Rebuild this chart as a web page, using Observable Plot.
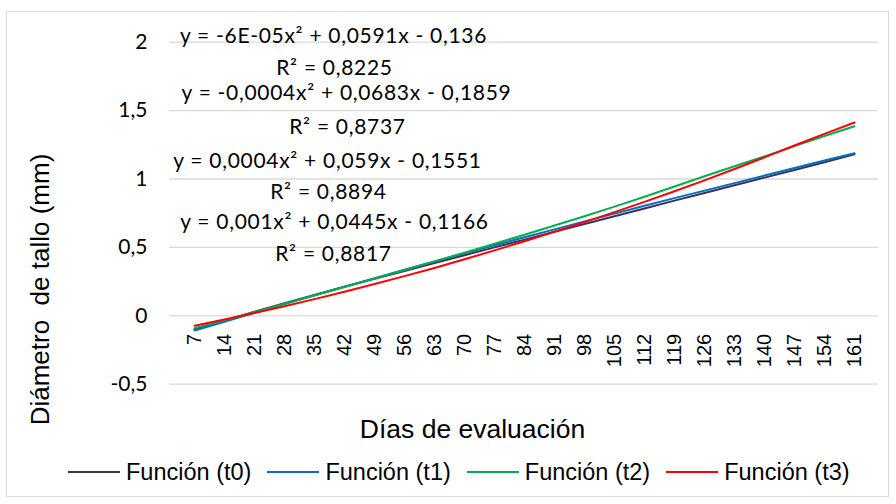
<!DOCTYPE html>
<html><head><meta charset="utf-8">
<script src="https://cdn.jsdelivr.net/npm/d3@7"></script>
<script src="https://cdn.jsdelivr.net/npm/@observablehq/plot@0.6"></script>
<style>
html,body{margin:0;padding:0;background:#fff;}
#wrap{position:relative;width:896px;height:504px;overflow:hidden;background:#fff;}
#frame{position:absolute;left:6px;top:11px;width:883px;height:486px;border:1px solid #d9d9d9;box-sizing:border-box;}
#chart{position:absolute;left:0;top:0;}
#chart svg text{white-space:pre;}
#chart svg .eq text{letter-spacing:0.7px;}
#legend{position:absolute;left:68px;top:456px;height:32px;display:flex;align-items:center;gap:16px;font-family:"Liberation Sans",Arial,sans-serif;font-size:23.5px;color:#000;}
.item{display:flex;align-items:center;}
.sw{width:52px;height:2px;margin-right:6px;}
</style></head><body>
<div id="wrap"><div id="frame"></div><div id="chart"></div><div id="legend"></div></div>
<script>
const days = [7,14,21,28,35,42,49,56,63,70,77,84,91,98,105,112,119,126,133,140,147,154,161];
const t0 = [-0.098,-0.035,0.030,0.092,0.152,0.212,0.270,0.328,0.386,0.443,0.500,0.557,0.614,0.671,0.728,0.785,0.842,0.898,0.954,1.010,1.066,1.122,1.180];
const t1 = [-0.108,-0.043,0.022,0.086,0.150,0.213,0.275,0.336,0.397,0.457,0.516,0.574,0.632,0.690,0.747,0.804,0.860,0.915,0.970,1.025,1.080,1.135,1.188];
const t2 = [-0.090,-0.032,0.027,0.087,0.148,0.210,0.272,0.335,0.398,0.462,0.527,0.593,0.660,0.728,0.798,0.870,0.945,1.020,1.093,1.165,1.240,1.314,1.386];
const t3 = [-0.072,-0.027,0.020,0.070,0.122,0.176,0.232,0.290,0.350,0.413,0.478,0.545,0.614,0.685,0.758,0.833,0.910,0.990,1.073,1.158,1.245,1.330,1.413];
const seriesNames = ["Función (t0)","Función (t1)","Función (t2)","Función (t3)"];
const seriesColors = ["#403152","#0070C0","#00B050","#FF0000"];
const yTicks = [-0.5,0,0.5,1,1.5,2];
const yTickLabels = ["-0,5","0","0,5","1","1,5","2"];
const eqLines = [
  "y = -6E-05x² + 0,0591x - 0,136","R² = 0,8225",
  "y = -0,0004x² + 0,0683x - 0,1859","R² = 0,8737",
  "y = 0,0004x² + 0,059x - 0,1551","R² = 0,8894",
  "y = 0,001x² + 0,0445x - 0,1166","R² = 0,8817"
];
const xTitle = "Días de evaluación";
const yTitle = "Diámetro  de tallo (mm)";

const series = [t0,t1,t2,t3];
const rows = [];
series.forEach((s,k)=>s.forEach((v,i)=>rows.push({day:days[i], value:v, serie:seriesNames[k]})));

const W=896,H=504,mL=169,mR=18,mT=41.7,mB=504-383.7;
const eqPos = [[333,42],[334,74],[346,99],[347,133],[327,167],[328,198],[334,228],[333,260]];
const eqMarks = eqLines.map((s,i)=>Plot.text([s],{frameAnchor:"top-left",dx:eqPos[i][0]-mL,dy:eqPos[i][1]-mT,
  textAnchor:"middle",lineAnchor:"bottom",fontSize:21,fontFamily:"Lato",fill:"#000",className:"eq"}));

const chart = Plot.plot({
  width:W,height:H,marginLeft:mL,marginRight:mR,marginTop:mT,marginBottom:mB,
  style:{background:"transparent",overflow:"visible"},
  x:{type:"point",domain:days,padding:0.5,axis:null},
  y:{domain:[-0.5,2],axis:null},
  color:{domain:seriesNames,range:seriesColors},
  marks:[
    Plot.ruleY(yTicks,{stroke:"#d9d9d9",strokeWidth:1.3}),
    Plot.text(yTicks,{y:d=>d,text:(d,i)=>yTickLabels[i],frameAnchor:"left",textAnchor:"end",dx:-22,fontSize:21,fontFamily:"Lato",fill:"#000"}),
    Plot.text(days,{x:d=>d,y:()=>0,text:d=>String(d),rotate:-90,textAnchor:"end",dy:18,fontSize:20,fontFamily:"Liberation Sans",fill:"#000"}),
    Plot.line(rows,{x:"day",y:"value",z:"serie",stroke:"serie",strokeWidth:2}),
    ...eqMarks,
    Plot.text([xTitle],{frameAnchor:"top-left",dx:472-mL,dy:437-mT,textAnchor:"middle",lineAnchor:"bottom",fontSize:26.5,fontFamily:"Liberation Sans",fill:"#000"}),
    Plot.text([yTitle],{frameAnchor:"top-left",dx:40-mL,dy:289-mT,rotate:-90,textAnchor:"middle",lineAnchor:"middle",fontSize:26,fontFamily:"Liberation Sans",fill:"#000"})
  ]
});
document.getElementById("chart").appendChild(chart);

const lg = document.getElementById("legend");
seriesNames.forEach((n,i)=>{
  const it=document.createElement("div");it.className="item";
  const sw=document.createElement("div");sw.className="sw";sw.style.background=seriesColors[i];
  const tx=document.createElement("span");tx.textContent=n;
  it.appendChild(sw);it.appendChild(tx);lg.appendChild(it);
});
</script>
</body></html>
